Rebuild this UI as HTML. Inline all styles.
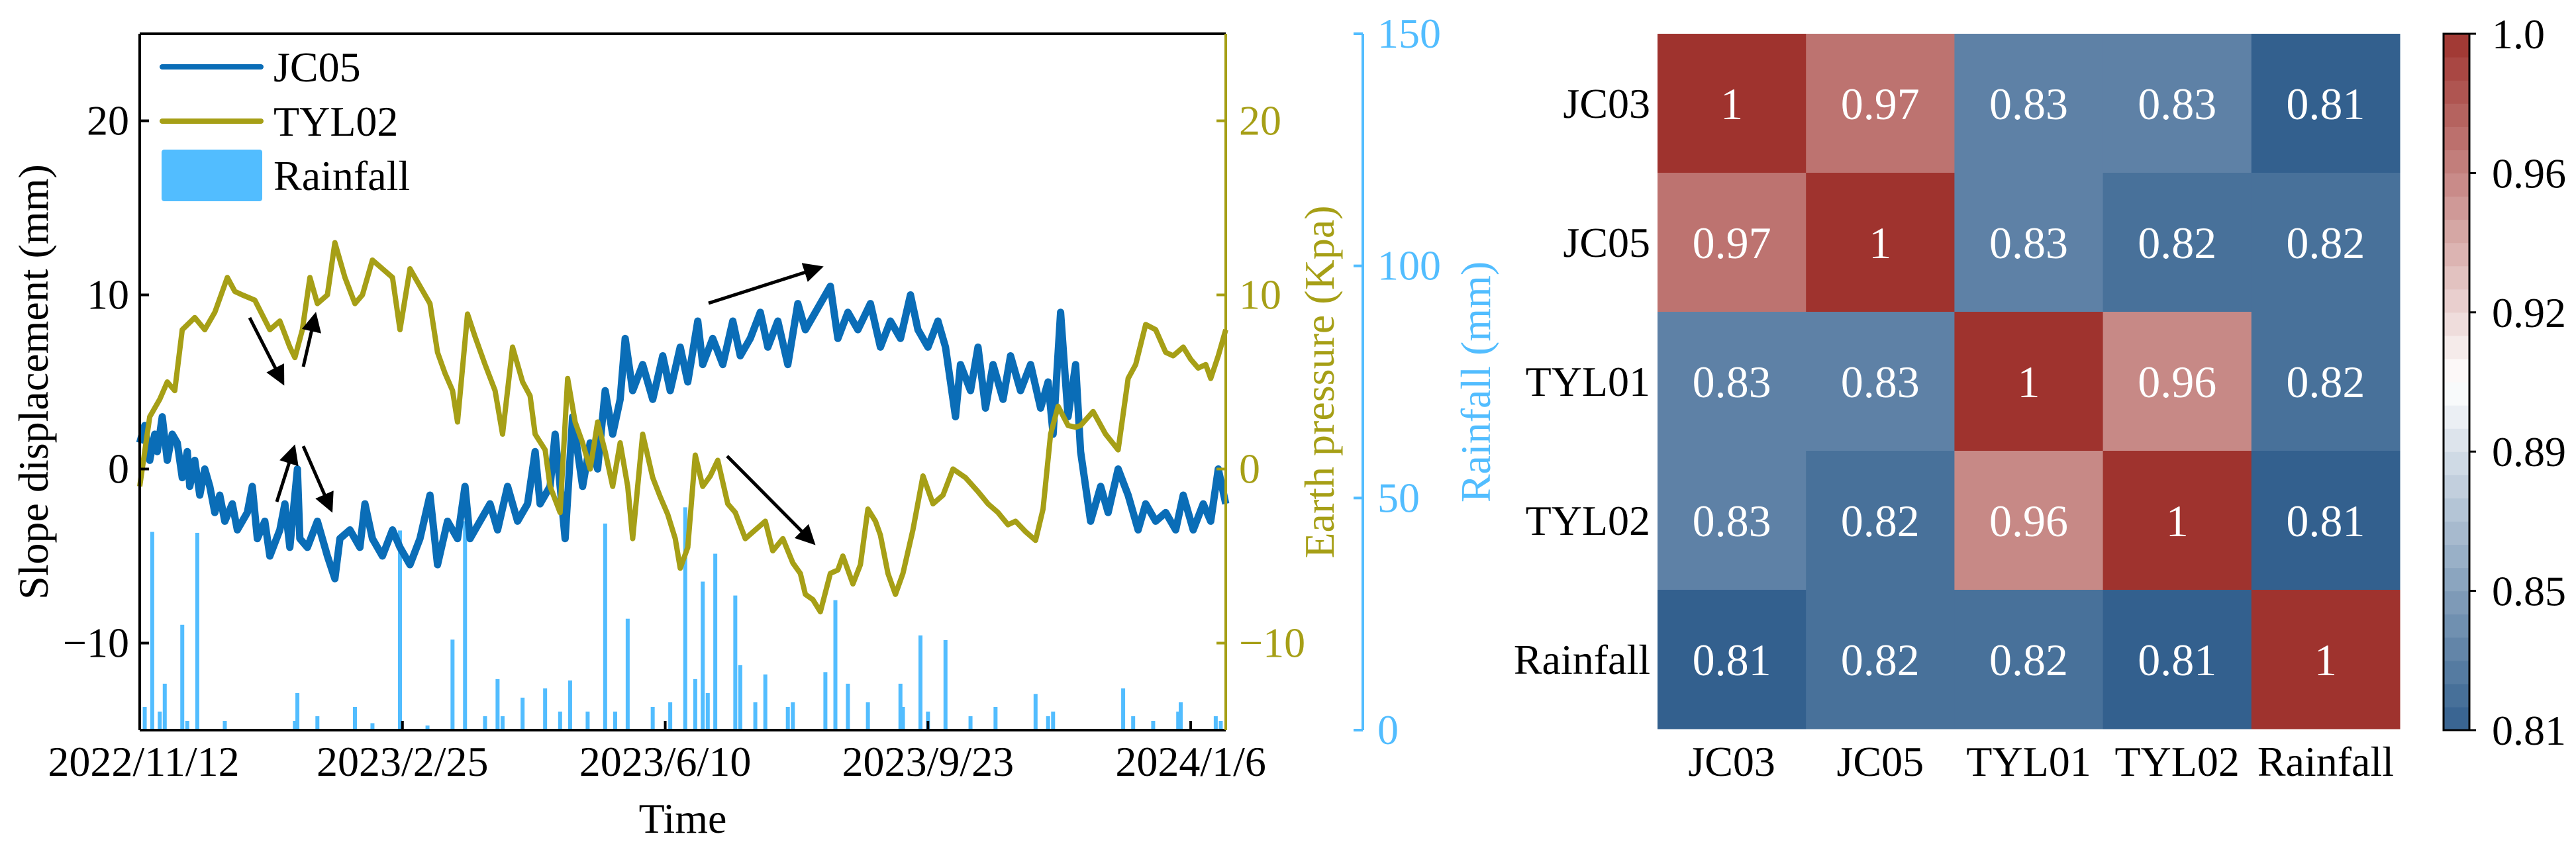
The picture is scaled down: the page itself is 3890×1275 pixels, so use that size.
<!DOCTYPE html>
<html><head><meta charset="utf-8"><style>
html,body{margin:0;padding:0;background:#fff;}
svg{display:block;}
svg text{font-family:"Liberation Serif",serif;}
</style></head><body>
<svg id="fig" width="3890" height="1275" viewBox="0 0 3890 1275" xmlns="http://www.w3.org/2000/svg" font-family="Liberation Serif, serif">
<g id="left"></g>
<g id="right"></g>
</svg>
<script>
// ---------- time series data ----------
const jcDays=[0,2,4,6,7,9,11,13,15,17,19,20,22,24,26,28,30,32,34,37,39,43,45,47,50,52,56,58,60,63,64,67,71,75,78,80,84,88,90,93,97,101,104,108,112,116,119,123,127,130,132,136,140,143,147,151,155,158,160,164,166,170,173,177,180,183,186,189,192,194,197,201,205,209,212,216,219,223,225,229,233,237,240,244,248,251,255,259,263,266,270,276,279,283,287,292,296,300,304,308,311,315,319,322,326,328,332,335,338,341,345,348,352,356,360,363,365,368,371,374,376,378,380,384,387,391,395,399,402,406,410,414,417,421,425,428,431,434];
const jcVals=[1.5,2.5,0.5,2,1,3,0.5,2,1.5,-0.5,1,-1,0.5,-1.5,0,-1,-2.5,-1.5,-3,-2,-3.5,-2.5,-1,-4,-3,-5,-3.5,-2,-4.5,0,-4,-4.5,-3,-5,-6.3,-4,-3.5,-4.5,-2,-4,-5,-3.5,-4.5,-5.5,-4,-1.5,-5.5,-3,-4,-1,-4,-3,-2,-3.5,-1,-3,-2,1,-2,-1,2,-4,3,-1,1.5,0,4.5,2,4,7.5,4.5,6,4,6.5,4.5,7,5,8.5,6,7.5,6,8.5,6.5,7.5,9,7,8.5,6,9.5,8,9,10.5,7.5,9,8,9.5,7,8.5,7.5,10,8,7,8.5,7,3,6,4.5,7,3.5,6,4,6.5,4.5,6,3.5,5,2,9,3,6,1,-1,-3,-1,-2.5,0,-1.5,-3.5,-2,-3,-2.5,-3.5,-1.5,-3.5,-2,-3,0,-2];
const tyDays=[0,4,8,11,14,17,22,26,30,35,38,41,46,52,56,60,62,65,68,71,75,78,82,86,89,93,97,101,104,108,112,116,119,122,125,127,131,134,138,142,145,149,153,156,158,162,164,168,171,174,177,180,183,186,189,192,195,197,201,205,208,211,214,216,219,222,225,228,231,235,238,242,246,250,253,257,261,264,266,269,272,276,279,281,285,288,291,294,296,299,302,305,309,313,317,321,325,330,335,339,343,347,350,354,358,361,364,367,371,374,376,381,386,391,395,398,402,406,410,413,417,420,423,426,428,431,434];
const tyVals=[-1,3,4,5,4.5,8,8.7,8,9,11,10.2,10,9.7,8,8.5,7,6.4,8,11,9.5,10,13,11,9.5,10,12,11.5,11,8,11.5,10.5,9.5,6.7,5.5,4.5,2.7,8.9,7.6,6,4.5,2,7,5,4.2,2,1.1,-1,-2.5,5.2,2.7,1.5,0,2.7,1,-1,1.5,-1,-4,2,-0.5,-1.6,-2.6,-4,-5.7,-4.5,0.8,-1,-0.4,0.5,-2,-2.5,-4,-3.5,-3,-4.7,-4,-5.4,-6,-7.2,-7.5,-8.2,-6,-5.8,-5,-6.6,-5.5,-2.3,-3,-3.8,-6,-7.2,-6,-3.5,-0.4,-2,-1.5,0,-0.5,-1.3,-2,-2.5,-3.2,-3,-3.6,-4.1,-2.3,2,3.6,2.5,2.4,2.5,3.3,2,1.1,5.2,6,8.3,8,6.7,6.5,7,6.3,5.8,6,5.2,6.5,8];
const rainDays=[2,5,8,10,17,19,23,34,62,63,71,86,93,104,115,125,130,138,143,145,153,162,168,172,179,186,190,195,205,212,218,222,225,227,230,238,240,246,250,259,261,274,278,283,291,304,305,312,315,322,332,342,358,363,365,393,397,405,415,416,430,432];
const rainVals=[5,42.7,4,10,22.7,2,42.5,2,2,8,3,5,1.5,43,1,19.5,45,3,11,3,7,9,4,10.7,4,44.5,4,24,5,6,48,11,32,8,38,29,14,6,12,5,6,12.5,28,10,6,10,5,20.4,4,19.4,3,5,7.8,3,4,9,3,2,4,6,3,2];
const xTickLabels=["2022/11/12","2023/2/25","2023/6/10","2023/9/23","2024/1/6"];
const xTickDays=[0,105,210,315,420];
const leftTicks=[-10,0,10,20];
const rainTicks=[0,50,100,150];

// ---------- heatmap data ----------
const hmLabels=["JC03","JC05","TYL01","TYL02","Rainfall"];
const hmRow0=[1,0.97,0.83,0.83,0.81];
const hmRow1=[0.97,1,0.83,0.82,0.82];
const hmRow2=[0.83,0.83,1,0.96,0.82];
const hmRow3=[0.83,0.82,0.96,1,0.81];
const hmRow4=[0.81,0.82,0.82,0.81,1];
const cbTicks=["1.0","0.96","0.92","0.89","0.85","0.81"];

const NS="http://www.w3.org/2000/svg";
function mk(parent,tag,attrs,text){const e=document.createElementNS(NS,tag);for(const k in attrs)e.setAttribute(k,attrs[k]);if(text!==undefined)e.textContent=text;parent.appendChild(e);return e;}

const X0=211,X1=1851,Y0=51,Y1=1103;
const xs=d=>X0+d*(X1-X0)/434;
const ys=v=>Y1-(v+15)*(Y1-Y0)/40;
const yr=r=>Y1-r*(Y1-Y0)/150;
const L=document.getElementById('left');
const BLUE="#0a6db7",OLIVE="#a69f16",SKY="#52bdff";

rainDays.forEach((d,i)=>{
  const b=mk(L,'rect',{x:xs(d)-3,y:yr(rainVals[i]),width:6,height:Y1-yr(rainVals[i]),fill:SKY});
  
  
});
let p1=jcDays.map((d,i)=>(i?'L':'M')+xs(d).toFixed(1)+','+ys(jcVals[i]).toFixed(1)).join('');
const l1=mk(L,'path',{d:p1,fill:'none',stroke:BLUE,'stroke-width':11,'stroke-linejoin':'round'});


let p2=tyDays.map((d,i)=>(i?'L':'M')+xs(d).toFixed(1)+','+ys(tyVals[i]).toFixed(1)).join('');
const l2=mk(L,'path',{d:p2,fill:'none',stroke:OLIVE,'stroke-width':8,'stroke-linejoin':'round'});



const arrows=[[377,480,427,578],[458,554,476,476],[418,758,444,676],[458,674,500,770],[1070,458,1239,404],[1098,689,1228,820]];
mk(L,'defs',{}).innerHTML='<marker id="ah" markerWidth="6" markerHeight="6" refX="5" refY="3" orient="auto"><path d="M0,0L6,3L0,6z" fill="#000"/></marker>';
arrows.forEach(a=>{const e=mk(L,'line',{x1:a[0],y1:a[1],x2:a[2],y2:a[3],stroke:'#000','stroke-width':5,'marker-end':'url(#ah)'});
 
 });

mk(L,'line',{x1:X0,y1:Y0,x2:X1,y2:Y0,stroke:'#000','stroke-width':4});
mk(L,'line',{x1:X0,y1:Y1,x2:X1,y2:Y1,stroke:'#000','stroke-width':4});
mk(L,'line',{x1:X0,y1:Y0,x2:X0,y2:Y1,stroke:'#000','stroke-width':4});
mk(L,'line',{x1:X1,y1:Y0,x2:X1,y2:Y1,stroke:OLIVE,'stroke-width':4});
const TF='font-family';
leftTicks.forEach(v=>{
  mk(L,'line',{x1:X0,y1:ys(v),x2:X0+14,y2:ys(v),stroke:'#000','stroke-width':4});
  const t=mk(L,'text',{x:X0-16,y:ys(v)+21,'text-anchor':'end','font-size':64,fill:'#000'},v<0?'\u2212'+(-v):String(v));
  
  
  mk(L,'line',{x1:X1,y1:ys(v),x2:X1-14,y2:ys(v),stroke:OLIVE,'stroke-width':4});
  const t2=mk(L,'text',{x:X1+20,y:ys(v)+21,'font-size':64,fill:OLIVE},v<0?'\u2212'+(-v):String(v));
  
  
});
xTickDays.forEach((d,i)=>{
  mk(L,'line',{x1:xs(d),y1:Y1,x2:xs(d),y2:Y1-14,stroke:'#000','stroke-width':4});
  const t=mk(L,'text',{x:i==0?xs(d)+6:xs(d),y:1172,'text-anchor':'middle','font-size':64,fill:'#000'},xTickLabels[i]);
  
  
});
const RX=2058;
mk(L,'line',{x1:RX,y1:Y0,x2:RX,y2:Y1,stroke:SKY,'stroke-width':4});
rainTicks.forEach(r=>{
  mk(L,'line',{x1:RX,y1:yr(r),x2:RX-14,y2:yr(r),stroke:SKY,'stroke-width':4});
  const t=mk(L,'text',{x:RX+22,y:yr(r)+21,'font-size':64,fill:SKY},String(r));
  
  
});
</script>
<script>
(function(){
const L=document.getElementById('left');
L.insertAdjacentHTML('beforeend',
`<text x="1031" y="1258" text-anchor="middle" font-size="64">Time</text>
<text transform="translate(72,577) rotate(-90)" text-anchor="middle" font-size="64">Slope displacement (mm)</text>
<text transform="translate(2014,577) rotate(-90)" text-anchor="middle" font-size="64" fill="#a69f16">Earth pressure (Kpa)</text>
<text transform="translate(2250,577) rotate(-90)" text-anchor="middle" font-size="64" fill="#52bdff">Rainfall (mm)</text>
<g>
<line x1="245" y1="101" x2="394" y2="101" stroke="#0a6db7" stroke-width="8" stroke-linecap="round"/>
<text x="413" y="123" font-size="64">JC05</text>
<line x1="245" y1="183" x2="394" y2="183" stroke="#a69f16" stroke-width="8" stroke-linecap="round"/>
<text x="413" y="205" font-size="64">TYL02</text>
<rect x="244" y="226" width="152" height="78" rx="4" fill="#52bdff"/>
<text x="413" y="287" font-size="64">Rainfall</text>
</g>`);
const R=document.getElementById('right');
const HX0=2503,HY0=51,CW=224.2,CH=210;
const rows=[hmRow0,hmRow1,hmRow2,hmRow3,hmRow4];
function cmap(v){let t=(v-0.81)/(1-0.81);t=Math.max(0,Math.min(1,t));
 const B=[51,96,142],W=[255,255,255],Rd=[159,51,46];let c;
 if(t<0.5){const s=t/0.5;c=B.map((b,i)=>b+(W[i]-b)*s);}else{const s=(t-0.5)/0.5;c=W.map((w,i)=>w+(Rd[i]-w)*s);}
 return 'rgb('+c.map(Math.round).join(',')+')';}
rows.forEach((row,r)=>row.forEach((v,c)=>{
 const cell=mk(R,'rect',{x:HX0+c*CW,y:HY0+r*CH,width:CW+0.5,height:CH+0.5,fill:cmap(v)});
 
 
 const t=mk(R,'text',{x:HX0+(c+0.5)*CW,y:HY0+(r+0.5)*CH+24,'text-anchor':'middle','font-size':68,fill:'#fff'},String(v));
 
 
}));
hmLabels.forEach((lab,i)=>{
 const a=mk(R,'text',{x:2492,y:HY0+(i+0.5)*CH+22,'text-anchor':'end','font-size':64},lab);
 
 
 const b=mk(R,'text',{x:HX0+(i+0.5)*CW,y:1172,'text-anchor':'middle','font-size':64},lab);
 
 
});
const CX=3690,CWb=39,CY0=51,CY1=1103,N=30;
for(let k=0;k<N;k++){
 const v=0.81+(k+0.5)*(0.19/N);
 const y=CY1-(k+1)*(CY1-CY0)/N;
 const s=mk(R,'rect',{x:CX,y:y,width:CWb,height:(CY1-CY0)/N+0.6,fill:cmap(v)});
 
 
}
mk(R,'rect',{x:CX,y:CY0,width:CWb,height:CY1-CY0,fill:'none',stroke:'#000','stroke-width':3});
cbTicks.forEach((lab,i)=>{
 const y=CY0+i*(CY1-CY0)/5;
 mk(R,'line',{x1:CX+CWb,y1:y,x2:CX+CWb+10,y2:y,stroke:'#000','stroke-width':3});
 const t=mk(R,'text',{x:3763,y:y+22,'font-size':64},lab);
 
 
});
})();
</script>
</body></html>
